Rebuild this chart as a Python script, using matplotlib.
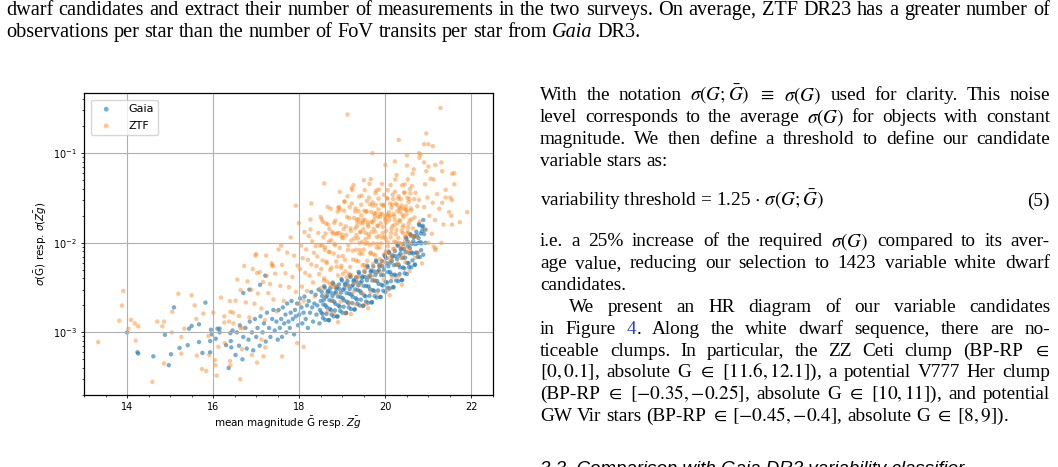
import matplotlib
matplotlib.use("Agg")
import matplotlib.pyplot as plt
from matplotlib.ticker import MultipleLocator
from matplotlib.transforms import IdentityTransform

# (mean magnitude, sigma)
gaia_points = [
    (14.00, 1.0e-3), (14.24, 6.0e-4), (14.26, 5.8e-4), (14.61, 5.4e-4), (14.88, 9.4e-4), (14.97, 4.3e-4),
    (15.02, 5.7e-4), (15.09, 1.9e-3), (15.22, 6.7e-4), (15.41, 7.2e-4), (15.44, 1.1e-3), (15.50, 1.18e-3),
    (15.67, 1.23e-3), (15.67, 7.8e-4), (15.75, 5.9e-4), (15.82, 2.15e-3), (15.93, 8.0e-4), (15.95, 1.07e-3),
    (15.93, 6.0e-4), (15.97, 9.5e-4), (16.06, 8.5e-4), (16.10, 1.1e-3), (16.15, 1.1e-3), (16.15, 1.0e-3),
    (16.36, 4.0e-4), (16.40, 9.8e-4), (16.41, 8.0e-4), (16.45, 1.05e-3), (16.42, 6.8e-4), (16.30, 7.2e-4),
    (16.70, 2.75e-3), (16.84, 3.0e-3), (17.09, 3.4e-3), (17.21, 4.3e-3),
    (16.52, 5.6e-4), (16.55, 1.0e-3), (16.60, 7.1e-4), (16.62, 1.2e-3), (16.68, 5.0e-4), (16.70, 8.9e-4),
    (16.75, 1.12e-3), (16.78, 6.6e-4), (16.82, 8.3e-4), (16.85, 1.32e-3), (16.90, 1.0e-3), (16.93, 6.3e-4),
    (16.97, 1.41e-3), (17.00, 8.9e-4), (17.03, 1.12e-3), (17.08, 7.1e-4), (17.10, 1.51e-3), (17.15, 1.0e-3),
    (17.18, 1.26e-3), (17.22, 7.9e-4), (17.25, 1.66e-3), (17.30, 1.12e-3), (17.33, 8.9e-4), (17.37, 1.41e-3),
    (17.40, 1.78e-3), (17.43, 1.05e-3), (17.47, 1.32e-3), (17.50, 8.3e-4),
    (17.52, 1.78e-3), (17.55, 1.12e-3), (17.58, 1.41e-3), (17.60, 8.9e-4), (17.62, 1.9e-3), (17.65, 1.26e-3),
    (17.68, 1.58e-3), (17.70, 1.0e-3), (17.72, 2.1e-3), (17.75, 1.32e-3), (17.78, 1.12e-3), (17.80, 1.66e-3),
    (17.82, 2.24e-3), (17.85, 1.41e-3), (17.88, 9.5e-4), (17.90, 1.78e-3), (17.92, 1.51e-3), (17.95, 2.1e-3),
    (17.97, 1.2e-3), (18.00, 1.58e-3), (18.02, 2.4e-3), (18.05, 1.9e-3), (18.07, 1.26e-3), (18.10, 1.66e-3),
    (18.12, 2.51e-3), (18.15, 1.41e-3), (18.18, 2.0e-3), (18.20, 1.12e-3), (18.22, 2.24e-3), (18.25, 1.66e-3),
    (18.28, 2.82e-3), (18.30, 1.9e-3), (18.32, 1.32e-3), (18.35, 2.1e-3), (18.38, 2.63e-3), (18.40, 1.58e-3),
    (18.42, 2.0e-3), (18.45, 3.0e-3), (18.47, 1.26e-3), (18.50, 2.24e-3), (18.48, 1.78e-3),
    (18.52, 2.84e-3), (18.54, 1.61e-3), (18.56, 2.05e-3), (18.58, 3.28e-3), (18.60, 1.38e-3), (18.62, 2.48e-3),
    (18.64, 1.90e-3), (18.66, 2.83e-3), (18.68, 1.37e-3), (18.70, 2.29e-3), (18.72, 3.12e-3), (18.74, 1.77e-3),
    (18.76, 2.25e-3), (18.78, 3.60e-3), (18.80, 1.51e-3), (18.82, 2.72e-3), (18.84, 2.08e-3), (18.86, 3.10e-3),
    (18.88, 1.50e-3), (18.90, 2.51e-3), (18.92, 3.42e-3), (18.94, 1.94e-3), (18.96, 2.47e-3), (18.98, 3.94e-3),
    (19.00, 1.66e-3), (19.02, 2.98e-3), (19.04, 2.28e-3), (19.06, 3.40e-3), (19.08, 1.64e-3), (19.10, 2.75e-3),
    (19.12, 3.75e-3), (19.14, 2.13e-3), (19.16, 2.70e-3), (19.18, 4.33e-3), (19.20, 1.82e-3), (19.22, 3.27e-3),
    (19.24, 2.50e-3), (19.26, 3.73e-3), (19.28, 1.80e-3), (19.30, 3.02e-3), (19.32, 4.11e-3), (19.34, 2.33e-3),
    (19.36, 2.96e-3), (19.38, 4.74e-3), (19.40, 2.00e-3), (19.42, 3.58e-3), (19.44, 2.74e-3), (19.46, 4.09e-3),
    (19.48, 1.98e-3), (19.50, 3.31e-3),
    (18.51, 1.67e-3), (18.53, 2.55e-3), (18.55, 1.45e-3), (18.57, 2.31e-3), (18.59, 3.15e-3), (18.61, 2.00e-3),
    (18.63, 1.61e-3), (18.65, 2.57e-3), (18.67, 2.91e-3), (18.69, 1.37e-3), (18.71, 1.83e-3), (18.73, 2.79e-3),
    (18.75, 1.58e-3), (18.77, 2.54e-3), (18.79, 3.45e-3), (18.81, 2.20e-3), (18.83, 1.76e-3), (18.85, 2.82e-3),
    (18.87, 3.19e-3), (18.89, 1.51e-3), (18.91, 2.00e-3), (18.93, 3.06e-3), (18.95, 1.74e-3), (18.97, 2.78e-3),
    (18.99, 3.78e-3), (19.01, 2.41e-3), (19.03, 1.93e-3), (19.05, 3.09e-3), (19.07, 3.50e-3), (19.09, 1.65e-3),
    (19.11, 2.20e-3), (19.13, 3.36e-3), (19.15, 1.91e-3), (19.17, 3.05e-3), (19.19, 4.15e-3), (19.21, 2.64e-3),
    (19.23, 2.12e-3), (19.25, 3.39e-3), (19.27, 3.84e-3), (19.29, 1.81e-3), (19.31, 2.41e-3), (19.33, 3.68e-3),
    (19.35, 2.09e-3), (19.37, 3.34e-3), (19.39, 4.55e-3), (19.41, 2.90e-3), (19.43, 2.32e-3), (19.45, 3.72e-3),
    (19.47, 4.21e-3), (19.49, 1.99e-3),
    (19.52, 4.74e-3), (19.54, 2.52e-3), (19.56, 3.30e-3), (19.58, 5.55e-3), (19.60, 2.14e-3), (19.62, 4.13e-3),
    (19.64, 3.03e-3), (19.66, 4.76e-3), (19.68, 2.16e-3), (19.70, 3.80e-3), (19.72, 5.45e-3), (19.74, 2.90e-3),
    (19.76, 3.78e-3), (19.78, 6.37e-3), (19.80, 2.45e-3), (19.82, 4.74e-3), (19.84, 3.48e-3), (19.86, 5.47e-3),
    (19.88, 2.48e-3), (19.90, 4.37e-3), (19.92, 6.25e-3), (19.94, 3.33e-3), (19.96, 4.35e-3), (19.98, 7.31e-3),
    (20.00, 2.82e-3),
    (19.51, 2.59e-3), (19.53, 4.16e-3), (19.55, 2.21e-3), (19.57, 3.81e-3), (19.59, 5.33e-3), (19.61, 3.26e-3),
    (19.63, 2.56e-3), (19.65, 4.32e-3), (19.67, 4.91e-3), (19.69, 2.17e-3), (19.71, 2.97e-3), (19.73, 4.78e-3),
    (19.75, 2.54e-3), (19.77, 4.38e-3), (19.79, 6.12e-3), (19.81, 3.74e-3), (19.83, 2.94e-3), (19.85, 4.95e-3),
    (19.87, 5.64e-3), (19.89, 2.49e-3), (19.91, 3.41e-3), (19.93, 5.48e-3), (19.95, 2.92e-3), (19.97, 5.02e-3),
    (19.99, 7.03e-3),
    (20.02, 6.73e-3), (20.04, 3.60e-3), (20.06, 4.72e-3), (20.08, 7.98e-3), (20.10, 3.09e-3), (20.12, 6.00e-3),
    (20.14, 4.43e-3), (20.16, 6.98e-3), (20.18, 3.18e-3), (20.20, 5.62e-3), (20.22, 8.09e-3), (20.24, 4.33e-3),
    (20.26, 5.68e-3), (20.28, 9.59e-3), (20.30, 3.72e-3), (20.32, 7.21e-3), (20.34, 5.32e-3), (20.36, 8.39e-3),
    (20.38, 3.82e-3), (20.40, 6.76e-3), (20.42, 9.72e-3), (20.44, 5.20e-3), (20.46, 6.82e-3), (20.48, 1.15e-2),
    (20.50, 4.47e-3),
    (20.01, 3.66e-3), (20.03, 5.92e-3), (20.05, 3.16e-3), (20.07, 5.47e-3), (20.09, 7.69e-3), (20.11, 4.72e-3),
    (20.13, 3.73e-3), (20.15, 6.31e-3), (20.17, 7.21e-3), (20.19, 3.21e-3), (20.21, 4.41e-3), (20.23, 7.11e-3),
    (20.25, 3.80e-3), (20.27, 6.58e-3), (20.29, 9.25e-3), (20.31, 5.68e-3), (20.33, 4.49e-3), (20.35, 7.59e-3),
    (20.37, 8.67e-3), (20.39, 3.85e-3), (20.41, 5.30e-3), (20.43, 8.55e-3), (20.45, 4.57e-3), (20.47, 7.91e-3),
    (20.49, 1.11e-2),
    (20.52, 1.03e-2), (20.54, 5.93e-3), (20.56, 7.66e-3), (20.58, 1.25e-2), (20.60, 5.33e-3), (20.62, 9.73e-3),
    (20.64, 7.59e-3), (20.66, 1.15e-2), (20.68, 5.66e-3), (20.70, 9.64e-3), (20.72, 1.33e-2), (20.74, 7.71e-3),
    (20.76, 9.95e-3), (20.78, 1.62e-2), (20.80, 6.93e-3), (20.82, 1.27e-2), (20.84, 9.86e-3), (20.86, 1.50e-2),
    (20.88, 7.36e-3), (20.90, 1.25e-2),
    (20.51, 5.97e-3), (20.53, 9.27e-3), (20.55, 5.35e-3), (20.57, 8.71e-3), (20.59, 1.21e-2), (20.61, 7.82e-3),
    (20.63, 6.37e-3), (20.65, 1.04e-2), (20.67, 1.19e-2), (20.69, 5.73e-3), (20.71, 7.76e-3), (20.73, 1.21e-2),
    (20.75, 6.95e-3), (20.77, 1.13e-2), (20.79, 1.57e-2), (20.81, 1.02e-2), (20.83, 8.28e-3), (20.85, 1.35e-2),
    (20.87, 1.55e-2), (20.88, 1.8e-2), (20.92, 1.4e-2), (20.93, 1.0e-2),
]

ztf_points = [
    (13.33, 7.8e-4), (13.82, 1.35e-3), (13.88, 2.0e-3), (13.91, 2.9e-3), (14.03, 1.1e-3), (14.09, 1.38e-3),
    (14.18, 1.26e-3), (14.20, 8.1e-4), (14.26, 1.17e-3), (14.59, 2.8e-4), (14.70, 1.32e-3), (14.82, 1.17e-3),
    (14.86, 1.32e-3), (14.86, 4.5e-4), (15.04, 1.0e-3), (15.05, 1.7e-3), (15.19, 2.7e-3), (15.26, 8.9e-4),
    (15.26, 5.8e-4), (15.33, 1.1e-3), (15.50, 2.6e-3), (15.57, 2.0e-3), (15.61, 1.41e-3), (15.62, 5.5e-4),
    (15.74, 3.9e-4), (15.77, 1.62e-3), (15.84, 3.7e-4), (15.89, 9.1e-4), (15.91, 5.6e-4), (16.00, 1.66e-3),
    (16.04, 4.9e-4), (16.05, 4.3e-4), (16.08, 3.3e-4), (16.12, 6.9e-4), (16.18, 2.45e-3), (16.26, 1.51e-3),
    (16.26, 1.29e-3), (16.27, 7.6e-4), (16.37, 1.32e-3), (16.39, 2.24e-3), (16.39, 4.8e-4), (16.40, 4.3e-4),
    (16.40, 1.7e-3), (16.46, 1.66e-3), (16.47, 1.26e-3), (16.63, 3.0e-4), (16.63, 1.12e-3), (16.67, 6.5e-4),
    (16.90, 5.6e-4), (17.02, 4.6e-4), (17.12, 8.3e-4), (17.17, 5.4e-4), (17.21, 6.8e-4), (17.60, 5.4e-4),
    (17.95, 7.6e-4), (18.10, 6.9e-4),
    (16.98, 7.2e-3), (17.23, 7.2e-3), (17.58, 9.3e-3), (17.02, 4.6e-3), (17.37, 5.6e-3), (17.39, 5.5e-3),
    (16.52, 2.26e-3), (16.56, 3.88e-3), (16.60, 1.52e-3), (16.64, 2.96e-3), (16.68, 1.12e-3), (16.72, 5.51e-3),
    (16.76, 2.16e-3), (16.80, 3.71e-3), (16.84, 1.47e-3), (16.88, 3.0e-3), (16.92, 5.09e-3), (16.96, 2.09e-3),
    (17.00, 7.50e-3), (17.04, 2.72e-3), (17.08, 4.71e-3), (17.12, 1.85e-3), (17.16, 3.65e-3), (17.20, 1.37e-3),
    (17.24, 4.27e-3), (17.28, 2.75e-3), (17.32, 3.46e-3), (17.36, 5.93e-3), (17.40, 2.33e-3), (17.44, 4.53e-3),
    (17.48, 1.72e-3), (17.52, 8.41e-3), (17.56, 3.30e-3), (17.60, 5.66e-3), (17.64, 2.25e-3), (17.68, 4.58e-3),
    (17.72, 7.78e-3), (17.76, 3.20e-3), (17.80, 1.15e-2), (17.84, 4.15e-3), (17.88, 7.19e-3), (17.92, 2.83e-3),
    (17.96, 5.57e-3), (18.00, 2.09e-3),
    (18.02, 5.09e-3), (18.04, 9.31e-3), (18.06, 3.24e-3), (18.08, 6.73e-3), (18.10, 2.26e-3), (18.12, 1.32e-2),
    (18.14, 4.61e-3), (18.16, 8.43e-3), (18.18, 2.90e-3), (18.20, 6.46e-3), (18.22, 1.19e-2), (18.24, 4.31e-3),
    (18.26, 1.82e-2), (18.28, 5.73e-3), (18.30, 1.04e-2), (18.32, 3.61e-3), (18.34, 7.74e-3), (18.36, 2.52e-3),
    (18.38, 9.18e-3), (18.40, 5.50e-3), (18.42, 7.03e-3), (18.44, 1.29e-2), (18.46, 4.48e-3), (18.48, 9.29e-3),
    (18.50, 3.13e-3), (18.52, 1.83e-2), (18.54, 6.37e-3), (18.56, 1.16e-2), (18.58, 4.01e-3), (18.60, 8.91e-3),
    (18.62, 1.65e-2), (18.64, 5.94e-3), (18.66, 2.52e-2), (18.68, 7.91e-3), (18.70, 1.43e-2), (18.72, 4.98e-3),
    (18.74, 1.07e-2), (18.76, 3.48e-3), (18.78, 1.27e-2), (18.80, 7.59e-3), (18.82, 9.71e-3), (18.84, 1.77e-2),
    (18.86, 6.18e-3), (18.88, 1.28e-2), (18.90, 4.32e-3), (18.92, 2.52e-2), (18.94, 8.79e-3), (18.96, 1.61e-2),
    (18.98, 5.53e-3), (19.00, 1.23e-2),
    (18.51, 5.11e-3), (18.53, 9.33e-3), (18.55, 1.71e-2), (18.57, 3.79e-3), (18.59, 8.38e-3), (18.61, 1.27e-2),
    (18.63, 6.17e-3), (18.65, 3.69e-3), (18.67, 1.60e-2), (18.69, 1.03e-2), (18.71, 7.91e-3), (18.73, 2.40e-2),
    (18.75, 5.27e-3), (18.77, 1.32e-2), (18.79, 3.21e-3), (18.81, 1.67e-2), (18.83, 9.40e-3), (18.85, 1.25e-2),
    (18.87, 5.42e-3), (18.89, 2.24e-2), (18.91, 7.05e-3), (18.93, 1.29e-2), (18.95, 2.35e-2), (18.97, 5.22e-3),
    (18.99, 1.15e-2),
    (19.02, 1.13e-2), (19.04, 2.28e-2), (19.06, 6.46e-3), (19.08, 1.53e-2), (19.10, 4.14e-3), (19.12, 3.31e-2),
    (19.14, 9.42e-3), (19.16, 1.89e-2), (19.18, 5.38e-3), (19.20, 1.36e-2), (19.22, 2.74e-2), (19.24, 8.15e-3),
    (19.26, 4.41e-2), (19.28, 1.12e-2), (19.30, 2.24e-2), (19.32, 6.37e-3), (19.34, 1.54e-2), (19.36, 4.08e-3),
    (19.38, 1.84e-2), (19.40, 9.95e-3), (19.42, 1.32e-2), (19.44, 2.66e-2), (19.46, 7.55e-3), (19.48, 1.79e-2),
    (19.50, 4.84e-3), (19.52, 3.87e-2), (19.54, 1.10e-2), (19.56, 2.21e-2), (19.58, 6.30e-3), (19.60, 1.59e-2),
    (19.62, 3.20e-2), (19.64, 9.53e-3), (19.66, 5.15e-2), (19.68, 1.31e-2), (19.70, 2.62e-2), (19.72, 7.45e-3),
    (19.74, 1.80e-2), (19.76, 4.78e-3), (19.78, 2.15e-2), (19.80, 1.16e-2), (19.82, 1.55e-2), (19.84, 3.11e-2),
    (19.86, 8.83e-3), (19.88, 2.09e-2), (19.90, 5.66e-3), (19.92, 4.53e-2), (19.94, 1.29e-2), (19.96, 2.59e-2),
    (19.98, 7.36e-3), (20.00, 1.86e-2),
    (19.01, 7.11e-3), (19.03, 1.43e-2), (19.05, 2.87e-2), (19.07, 4.81e-3), (19.09, 1.22e-2), (19.11, 1.95e-2),
    (19.13, 8.36e-3), (19.15, 4.53e-3), (19.17, 2.51e-2), (19.19, 1.45e-2), (19.21, 1.06e-2), (19.23, 3.88e-2),
    (19.25, 6.49e-3), (19.27, 1.89e-2), (19.29, 3.54e-3), (19.31, 2.42e-2), (19.33, 1.22e-2), (19.35, 1.69e-2),
    (19.37, 6.21e-3), (19.39, 3.28e-2), (19.41, 8.32e-3), (19.43, 1.67e-2), (19.45, 3.36e-2), (19.47, 5.62e-3),
    (19.49, 1.42e-2), (19.51, 2.28e-2), (19.53, 9.77e-3), (19.55, 5.28e-3), (19.57, 2.93e-2), (19.59, 1.70e-2),
    (19.61, 1.24e-2), (19.63, 4.54e-2), (19.65, 7.59e-3), (19.67, 2.21e-2), (19.69, 4.14e-3), (19.71, 2.82e-2),
    (19.73, 1.43e-2), (19.75, 1.98e-2), (19.77, 7.26e-3), (19.79, 3.84e-2), (19.81, 9.73e-3), (19.83, 1.95e-2),
    (19.85, 3.93e-2), (19.87, 6.58e-3), (19.89, 1.66e-2), (19.91, 2.66e-2), (19.93, 1.14e-2), (19.95, 6.18e-3),
    (19.97, 3.43e-2), (19.99, 1.99e-2),
    (19.30, 1.45e-2), (19.32, 8.4e-3), (19.34, 1.81e-2), (19.36, 1.12e-2), (19.38, 2.26e-2), (19.40, 7.55e-3),
    (19.42, 1.32e-2), (19.44, 2.02e-2), (19.46, 1.02e-2), (19.48, 1.67e-2), (19.50, 8.41e-3), (19.52, 1.81e-2),
    (19.54, 1.29e-2), (19.56, 2.26e-2), (19.58, 9.98e-3), (19.60, 1.52e-2), (19.62, 1.16e-2), (19.64, 2.69e-2),
    (19.66, 7.80e-3), (19.68, 1.72e-2), (19.70, 1.69e-2), (19.72, 9.82e-3), (19.74, 2.12e-2), (19.76, 1.32e-2),
    (19.78, 2.65e-2), (19.80, 8.83e-3), (19.82, 1.55e-2), (19.84, 2.36e-2), (19.86, 1.19e-2), (19.88, 1.95e-2),
    (19.90, 9.84e-3), (19.92, 2.12e-2), (19.94, 1.51e-2), (19.96, 2.65e-2), (19.98, 1.17e-2), (20.00, 1.78e-2),
    (20.02, 1.36e-2), (20.04, 3.13e-2), (20.06, 9.12e-3), (20.08, 2.01e-2), (20.10, 1.98e-2), (20.12, 1.15e-2),
    (20.14, 2.47e-2), (20.16, 1.53e-2), (20.18, 3.08e-2), (20.20, 1.03e-2), (20.22, 1.80e-2), (20.24, 2.74e-2),
    (20.26, 1.39e-2), (20.28, 2.26e-2), (20.30, 1.14e-2), (20.32, 2.46e-2), (20.34, 1.75e-2), (20.36, 3.08e-2),
    (20.38, 1.35e-2), (20.40, 2.06e-2), (20.42, 1.57e-2), (20.44, 3.63e-2), (20.46, 1.06e-2), (20.48, 2.33e-2),
    (20.50, 2.29e-2), (20.52, 1.33e-2), (20.54, 2.86e-2), (20.56, 1.78e-2), (20.58, 3.57e-2), (20.60, 1.19e-2),
    (18.61, 2.64e-3), (18.66, 1.71e-3), (18.71, 3.48e-3), (18.76, 2.25e-3), (18.81, 1.63e-3), (18.86, 3.33e-3),
    (18.91, 2.70e-3), (18.96, 2.20e-3), (19.01, 4.49e-3), (19.06, 1.63e-3), (19.11, 3.33e-3), (19.16, 2.15e-3),
    (19.21, 4.39e-3), (19.26, 2.83e-3), (19.31, 2.05e-3), (19.36, 4.19e-3), (19.41, 3.40e-3), (19.46, 2.77e-3),
    (19.51, 5.66e-3), (19.56, 2.08e-3), (19.61, 4.30e-3), (19.66, 2.81e-3), (19.71, 5.79e-3), (19.76, 3.78e-3),
    (19.81, 2.77e-3), (19.86, 5.73e-3), (19.91, 4.71e-3), (19.96, 3.87e-3), (20.01, 8.02e-3), (20.06, 2.98e-3),
    (20.11, 6.22e-3), (20.16, 4.11e-3), (20.21, 8.59e-3), (20.26, 5.68e-3), (20.31, 4.21e-3), (20.36, 8.79e-3),
    (20.41, 7.31e-3), (20.46, 6.08e-3), (20.51, 1.28e-2), (20.56, 4.83e-3),
    (19.46, 1.95e-3), (19.60, 1.86e-3), (20.38, 3.4e-3), (19.20, 1.6e-3), (18.90, 1.3e-3), (20.10, 2.6e-3),
    (20.02, 1.67e-2), (20.04, 3.13e-2), (20.06, 1.01e-2), (20.08, 2.20e-2), (20.10, 6.78e-3), (20.12, 4.41e-2),
    (20.14, 1.42e-2), (20.16, 2.67e-2), (20.18, 8.59e-3), (20.20, 1.98e-2), (20.22, 3.72e-2), (20.24, 1.25e-2),
    (20.26, 5.71e-2), (20.28, 1.66e-2), (20.30, 3.11e-2), (20.32, 1.00e-2), (20.34, 2.21e-2), (20.36, 6.73e-3),
    (20.38, 2.61e-2), (20.40, 1.49e-2), (20.42, 1.94e-2), (20.44, 3.63e-2), (20.46, 1.17e-2), (20.48, 2.55e-2),
    (20.50, 7.85e-3), (20.52, 5.11e-2), (20.54, 1.64e-2), (20.56, 3.09e-2), (20.58, 9.95e-3), (20.60, 2.30e-2),
    (20.62, 4.31e-2), (20.64, 1.45e-2), (20.66, 6.62e-2), (20.68, 1.92e-2), (20.70, 3.61e-2), (20.72, 1.16e-2),
    (20.74, 2.56e-2), (20.76, 7.80e-3), (20.78, 3.02e-2), (20.80, 1.73e-2),
    (20.01, 1.10e-2), (20.03, 2.07e-2), (20.05, 3.87e-2), (20.07, 7.78e-3), (20.09, 1.79e-2), (20.11, 2.74e-2),
    (20.13, 1.28e-2), (20.15, 7.31e-3), (20.17, 3.44e-2), (20.19, 2.09e-2), (20.21, 1.58e-2), (20.23, 5.09e-2),
    (20.25, 1.02e-2), (20.27, 2.65e-2), (20.29, 5.90e-3), (20.31, 3.31e-2), (20.33, 1.79e-2), (20.35, 2.43e-2),
    (20.37, 9.75e-3), (20.39, 4.39e-2), (20.41, 1.28e-2), (20.43, 2.39e-2), (20.45, 4.49e-2), (20.47, 9.02e-3),
    (20.49, 2.08e-2), (20.51, 3.18e-2), (20.53, 1.48e-2), (20.55, 8.47e-3), (20.57, 3.99e-2), (20.59, 2.42e-2),
    (20.61, 1.83e-2), (20.63, 5.90e-2), (20.65, 1.19e-2), (20.67, 3.07e-2), (20.69, 6.84e-3),
    (20.85, 5.9e-3), (20.90, 2.5e-2), (20.92, 4.5e-2), (20.95, 1.4e-2), (20.98, 3.2e-2), (21.00, 1.0e-2),
    (21.02, 2.0e-2), (21.05, 5.2e-2), (21.08, 1.26e-2), (21.12, 9.1e-3), (21.16, 8.3e-3), (21.17, 8.7e-3),
    (21.10, 2.8e-2), (21.15, 1.8e-2), (21.20, 3.5e-2), (21.25, 2.4e-2), (21.30, 7.9e-2), (21.30, 1.0e-2),
    (21.35, 1.6e-2), (21.40, 3.2e-2), (21.48, 2.2e-2), (21.51, 3.2e-2), (21.53, 2.0e-2), (21.55, 5.9e-2),
    (21.55, 1.6e-2), (21.60, 6.0e-2), (21.60, 4.5e-2), (21.73, 1.7e-2), (21.90, 2.2e-2), (21.00, 7.1e-2),
    (20.90, 7.9e-2), (20.95, 6.3e-2), (21.16, 7.4e-2), (21.32, 6.3e-2), (21.12, 5.1e-2), (21.40, 3.9e-2),
    (21.55, 3.0e-2), (21.32, 2.8e-2),
    (21.28, 0.32), (19.12, 0.27), (20.95, 0.166), (20.90, 0.126), (21.00, 0.126), (21.10, 0.12),
    (20.31, 0.141), (20.78, 0.10), (20.82, 0.097), (19.70, 0.10), (20.50, 0.095), (19.22, 4.1e-2),
    (18.58, 4.6e-2), (18.94, 3.7e-2), (17.92, 2.6e-2), (18.28, 2.75e-2), (17.99, 1.66e-2), (19.05, 2.9e-2),
    (18.91, 2.45e-2), (18.50, 1.95e-2), (18.26, 1.41e-2), (19.50, 5.0e-2), (19.77, 3.6e-2), (20.00, 7.4e-2),
    (20.22, 8.1e-2), (20.50, 7.3e-2), (20.79, 8.9e-2),
]

# surrounding page text
top_lines = [
    "dwarf candidates and extract their number of measurements in the two surveys. On average, ZTF DR23 has a greater number of",
    "observations per star than the number of FoV transits per star from *Gaia* DR3.",
]
col_lines = [
    (100.3, r"With the notation $\sigma(G;\bar{G})$ $\equiv$ $\sigma(G)$ used for clarity. This noise", True, 0),
    (122.1, r"level corresponds to the average $\sigma(G)$ for objects with constant", True, 0),
    (143.9, r"magnitude. We then define a threshold to define our candidate", True, 0),
    (165.7, r"variable stars as:", False, 0),
    (246.5, r"i.e. a 25% increase of the required $\sigma(G)$ compared to its aver-", True, 0),
    (268.3, r"age value, reducing our selection to 1423 variable white dwarf", True, 0),
    (290.1, r"candidates.", False, 0),
    (311.9, r"We present an HR diagram of our variable candidates", True, 29),
    (333.7, r"in Figure 4. Along the white dwarf sequence, there are no-", True, 0),
    (355.5, r"ticeable clumps. In particular, the ZZ Ceti clump (BP-RP $\in$", True, 0),
    (377.3, r"$[0,0.1]$, absolute G $\in$ $[11.6,12.1]$), a potential V777 Her clump", True, 0),
    (399.1, r"(BP-RP $\in$ $[-0.35,{-}0.25]$, absolute G $\in$ $[10,11]$), and potential", True, 0),
    (420.9, r"GW Vir stars (BP-RP $\in$ $[-0.45,{-}0.4]$, absolute G $\in$ $[8,9]$).", False, 0),
]

W, H = 1058, 467
fig = plt.figure(figsize=(W / 100, H / 100), dpi=100)
renderer = fig.canvas.get_renderer()
LINK = "#2a3fd6"


def page_line(text, y, x0, x1, justify, indent=0, size=13.9):
    items = []
    for w in text.split(" "):
        if w == "4.":
            parts = [("4", LINK, "normal"), (".", "black", "normal")]
        elif w.startswith("*") and w.endswith("*"):
            parts = [(w[1:-1], "black", "italic")]
        else:
            parts = [(w, "black", "normal")]
        texts = []
        for t, c, st in parts:
            texts.append(fig.text(0, 0, t, color=c, style=st, fontsize=size,
                                  family="Liberation Serif", math_fontfamily="stix",
                                  va="baseline", ha="left", transform=IdentityTransform()))
        widths = [t.get_window_extent(renderer).width for t in texts]
        items.append((texts, widths))
    total = sum(sum(ws) for _, ws in items)
    if justify and len(items) > 1:
        gap = (x1 - x0 - indent - total) / (len(items) - 1)
    else:
        gap = size * 100 / 72 * 0.25
    x = x0 + indent
    for texts, widths in items:
        for t, w in zip(texts, widths):
            t.set_position((x, H - y))
            x += w
        x += gap


page_line(top_lines[0], 15.0, 6, 1050, True, size=14.6)
page_line(top_lines[1], 37.3, 6, 1050, False, size=14.6)
for y, txt, just, ind in col_lines:
    page_line(txt, y, 540, 1050, just, ind)

fig.text(540, H - 206, r"variability threshold = 1.25 $\cdot$ $\sigma(G;\bar{G})$", fontsize=13.9,
         family="Liberation Serif", math_fontfamily="stix", va="baseline", transform=IdentityTransform())
fig.text(1050, H - 206, "(5)", fontsize=13.9, family="Liberation Serif", ha="right", va="baseline",
         transform=IdentityTransform())
fig.text(540, H - 474, "3.3. Comparison with Gaia DR3 variability classifier", fontsize=13.5,
         family="Liberation Sans", style="italic", va="baseline", transform=IdentityTransform())

# the chart
ax = fig.add_axes([84 / W, 1 - 395 / H, (493 - 84) / W, (395 - 93) / H])
gx = [p[0] for p in gaia_points]
gy = [p[1] for p in gaia_points]
zx = [p[0] for p in ztf_points]
zy = [p[1] for p in ztf_points]
ax.scatter(gx, gy, s=10, color="tab:blue", alpha=0.6, edgecolors="none", label="Gaia")
ax.scatter(zx, zy, s=10, color="tab:orange", alpha=0.45, edgecolors="none", label="ZTF")
ax.set_yscale("log")
ax.set_xlim(13.0, 22.5)
ax.set_ylim(2.0e-4, 0.47)
ax.xaxis.set_major_locator(MultipleLocator(2))
ax.xaxis.set_minor_locator(MultipleLocator(0.5))
ax.grid(True, which="major", color="#b0b0b0", linewidth=0.8)
ax.tick_params(which="major", labelsize=7, length=2.5, width=0.6, pad=2.5)
ax.tick_params(which="minor", length=1.5, width=0.5)
for sp in ax.spines.values():
    sp.set_linewidth(0.9)
ax.set_xlabel(r"mean magnitude $\bar{\mathrm{G}}$ resp. $\bar{Zg}$", fontsize=7.5, labelpad=2)
ax.set_ylabel(r"$\sigma(\bar{\mathrm{G}})$ resp. $\sigma(\bar{Zg})$", fontsize=7.5, labelpad=3)
ax.legend(loc="upper left", fontsize=8, borderaxespad=0.6, handletextpad=1.0,
          labelspacing=0.6, markerscale=1.1)

fig.savefig("out.png", dpi=100)
